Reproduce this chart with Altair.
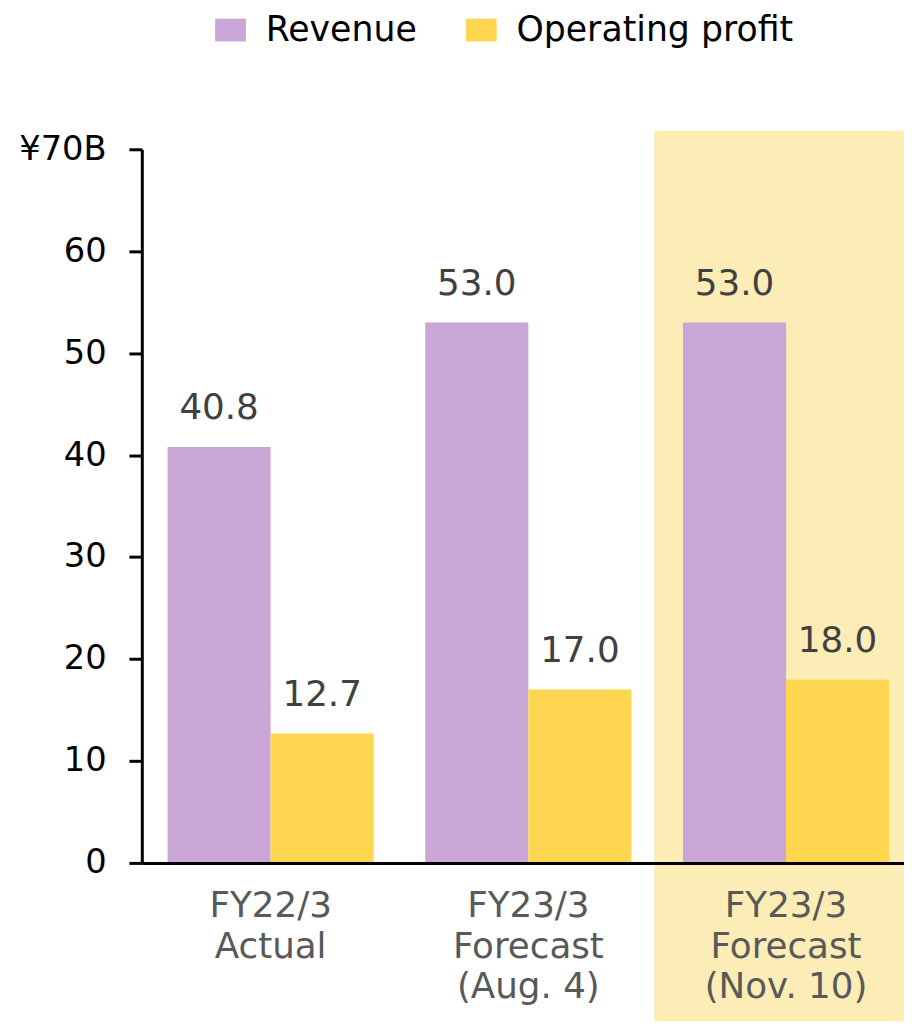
import altair as alt
import pandas as pd

categories = ["FY22/3|Actual", "FY23/3|Forecast|(Aug. 4)", "FY23/3|Forecast|(Nov. 10)"]
revenue = [40.8, 53.0, 53.0]
operating_profit = [12.7, 17.0, 18.0]
series_names = ["Revenue", "Operating profit"]
series_colors = ["#C9A6D5", "#FFD64F"]
highlight_category = ["FY23/3|Forecast|(Nov. 10)"]
y_ticks = [0, 10, 20, 30, 40, 50, 60, 70]

rows = []
for c, r, p in zip(categories, revenue, operating_profit):
    rows.append({"cat": c, "series": "Revenue", "value": r, "label": f"{r:.1f}"})
    rows.append({"cat": c, "series": "Operating profit", "value": p, "label": f"{p:.1f}"})
df = pd.DataFrame(rows)
hl = pd.DataFrame({"cat": highlight_category})

FONT = "DejaVu Sans"
W, H, BOTTOM = 769, 720, 160

x_scale = alt.Scale(domain=categories, paddingInner=0.2, paddingOuter=0.0788, align=0.634)
x_axis = alt.Axis(
    title=None, labelExpr="split(datum.label, '|')", labelAngle=0,
    labelFontSize=36, labelColor="#595959", labelFont=FONT, labelLineHeight=41,
    labelPadding=26, ticks=False, domainColor="black", domainWidth=3, zindex=1,
)
y_axis = alt.Axis(
    title=None, values=y_ticks, grid=False,
    labelExpr="datum.value == 70 ? '¥70B' : datum.label",
    labelFontSize=34, labelColor="black", labelFont=FONT, labelPadding=23,
    tickSize=13, tickWidth=3, tickColor="black", domainColor="black", domainWidth=3, zindex=1,
)
y_scale = alt.Scale(domain=[0, 70], nice=False)

highlight = alt.Chart(hl).mark_rect(color="#FCECB6", xOffset=-29).encode(
    x=alt.X("cat:N", scale=x_scale, axis=x_axis, bandPosition=0),
    x2=alt.value(W),
    y=alt.value(-19),
    y2=alt.value(H + BOTTOM),
)

offset_scale = alt.Scale(domain=series_names, paddingInner=0, paddingOuter=0)

bars = alt.Chart(df).mark_bar().encode(
    x=alt.X("cat:N", scale=x_scale, axis=x_axis),
    xOffset=alt.XOffset("series:N", scale=offset_scale),
    y=alt.Y("value:Q", scale=y_scale, axis=y_axis),
    color=alt.Color(
        "series:N",
        scale=alt.Scale(domain=series_names, range=series_colors),
        legend=alt.Legend(
            title=None, orient="none", direction="horizontal", legendX=72, legendY=-138,
            labelFontSize=35, labelFont=FONT, labelColor="black", labelLimit=0,
            symbolType="M-1,-0.74H1V0.74H-1Z", symbolSize=961, symbolStrokeWidth=0,
            labelOffset=18, columnPadding=47, padding=0,
        ),
    ),
)

texts = alt.Chart(df).mark_text(
    baseline="alphabetic", dy=-28, fontSize=36, font=FONT, color="#404040"
).encode(
    x=alt.X("cat:N", scale=x_scale, axis=x_axis),
    xOffset=alt.XOffset("series:N", scale=offset_scale),
    y=alt.Y("value:Q", scale=y_scale, axis=y_axis),
    text="label:N",
)

chart = alt.layer(highlight, bars, texts).properties(
    width=W, height=H,
    autosize=alt.AutoSizeParams(type="none"),
    padding={"left": 135, "top": 138, "right": 0, "bottom": BOTTOM},
).configure_view(stroke=None)

chart.save("out.html", embed_options={"renderer": "svg", "actions": False})
